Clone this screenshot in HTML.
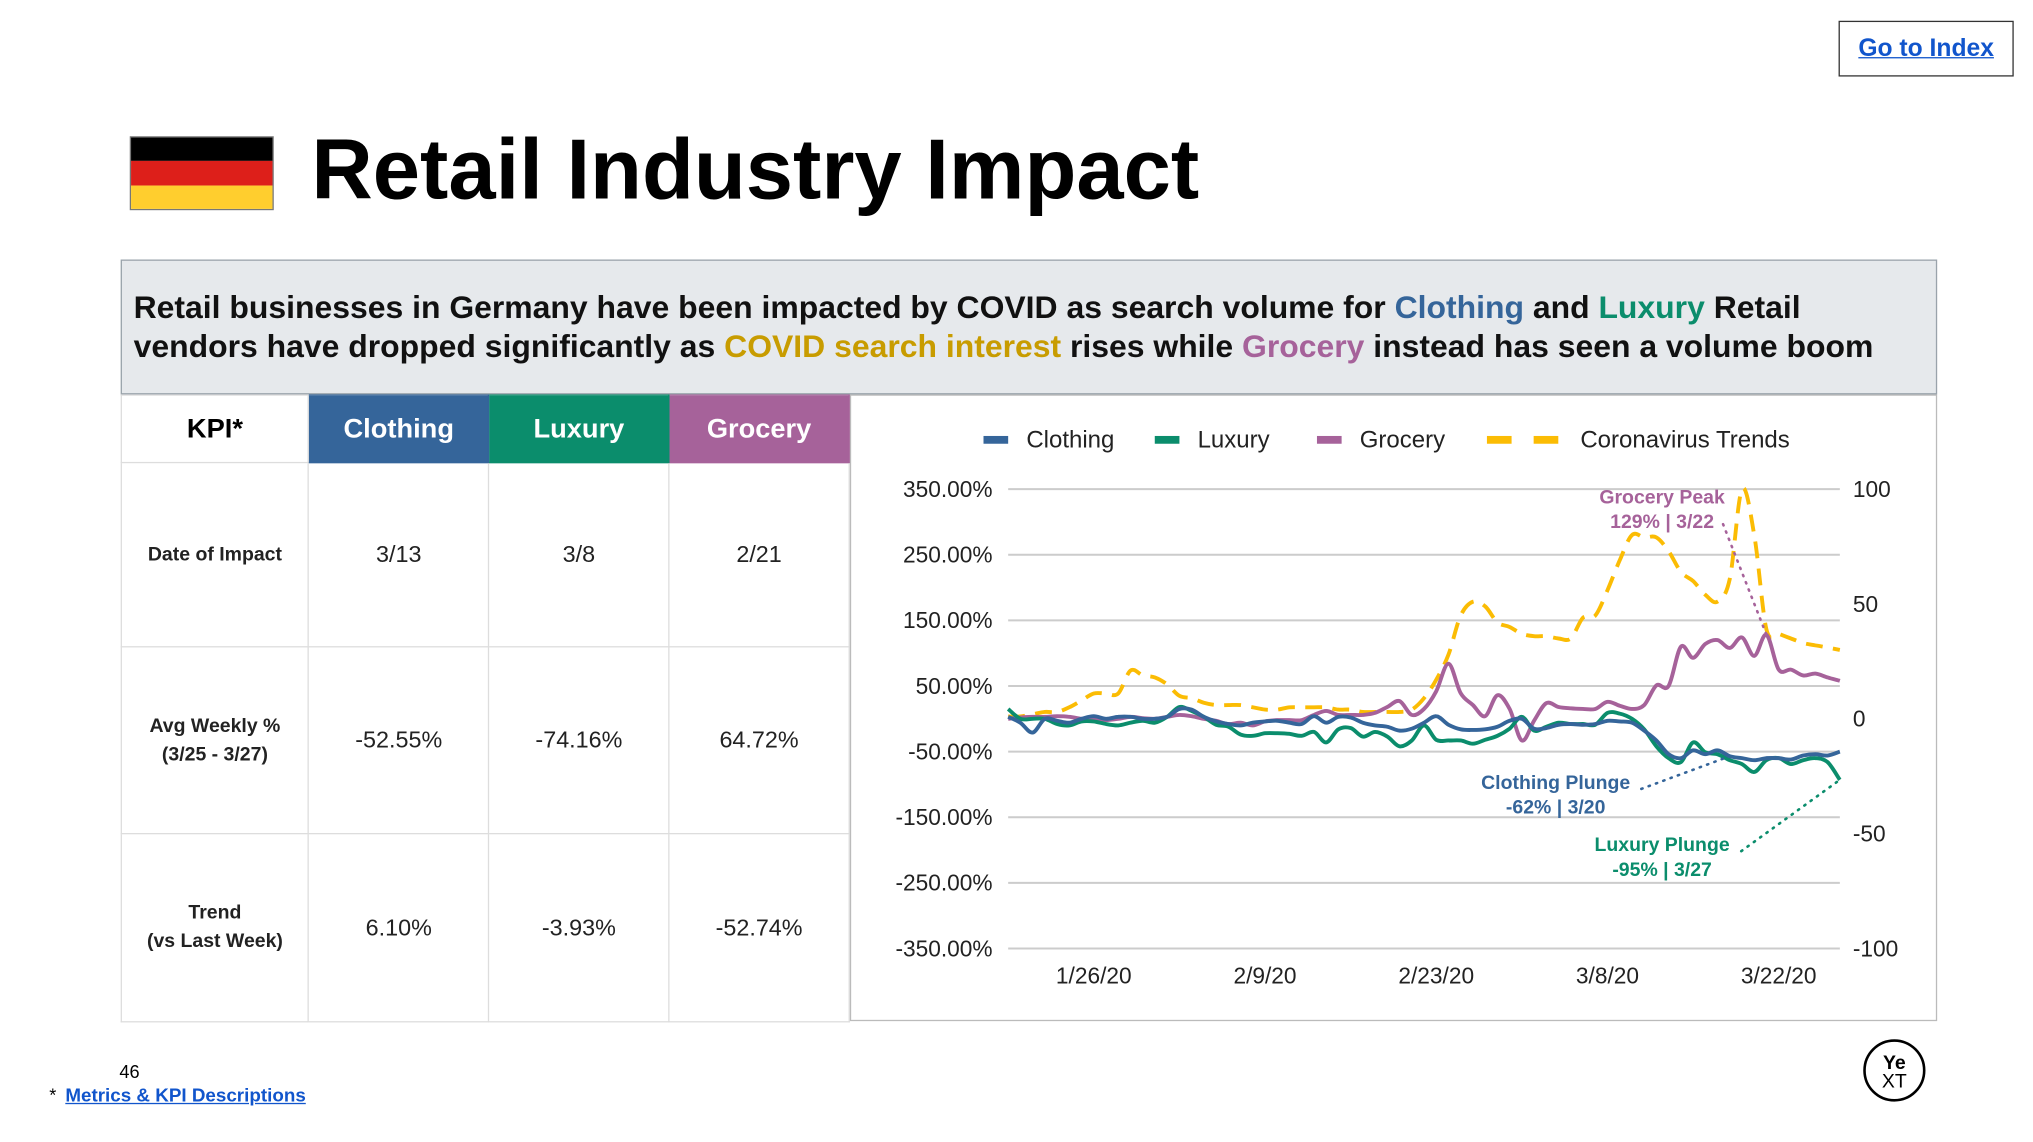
<!DOCTYPE html>
<html><head><meta charset="utf-8">
<style>
html,body{margin:0;padding:0;background:#fff;}
body{width:2033px;height:1137px;overflow:hidden;font-family:"Liberation Sans",Arial,sans-serif;}
#wrap{position:absolute;left:0;top:0;width:1570px;height:880px;transform:scale(1.2975);transform-origin:0 0;}
.abs{position:absolute;}
table{border-collapse:collapse;}
td{border:1px solid #ddd;text-align:center;font-size:18px;color:#222;padding:0;}
</style></head><body>
<div id="wrap">
  <a class="abs" style="left:1417px;top:16px;width:135px;height:43px;border:1px solid #333;box-sizing:border-box;color:#1155cc;font-weight:bold;font-size:19px;text-decoration:underline;display:flex;align-items:center;justify-content:center;">Go to Index</a>
  <div class="abs" style="left:100px;top:105px;width:111px;height:57px;border:1px solid #777;box-sizing:border-box;">
    <div style="height:33.3%;background:#000"></div><div style="height:33.3%;background:#dd1f1a"></div><div style="height:33.4%;background:#ffce2e"></div>
  </div>
  <div class="abs" style="left:240px;top:93px;font-size:65.5px;font-weight:bold;color:#000;white-space:nowrap;">Retail Industry Impact</div>
  <div class="abs" style="left:93px;top:200px;width:1400px;height:104px;background:#e6e9ec;border:1px solid #9aa3ab;box-sizing:border-box;padding:22px 0 0 9px;font-size:24.6px;font-weight:bold;line-height:30px;color:#111;white-space:nowrap;">
    Retail businesses in Germany have been impacted by COVID as search volume for <span style="color:#35659a">Clothing</span> and <span style="color:#0b8d6c">Luxury</span> Retail<br>vendors have dropped significantly as <span style="color:#c89c00">COVID search interest</span> rises while <span style="color:#a6629a">Grocery</span> instead has seen a volume boom
  </div>
  <table class="abs" style="left:93px;top:304px;width:562px;">
    <tr style="height:52px;">
      <td style="width:145px;font-weight:bold;font-size:21px;color:#000;">KPI*</td>
      <td style="width:139px;background:#35659a;color:#fff;font-weight:bold;font-size:21px;border-color:#35659a;">Clothing</td>
      <td style="width:139px;background:#0b8d6c;color:#fff;font-weight:bold;font-size:21px;border-color:#0b8d6c;">Luxury</td>
      <td style="width:139px;background:#a6629a;color:#fff;font-weight:bold;font-size:21px;border-color:#a6629a;">Grocery</td>
    </tr>
    <tr style="height:142px;"><td style="font-weight:bold;font-size:15px;">Date of Impact</td><td>3/13</td><td>3/8</td><td>2/21</td></tr>
    <tr style="height:144px;"><td style="font-weight:bold;font-size:15px;line-height:22px;">Avg Weekly %<br>(3/25 - 3/27)</td><td>-52.55%</td><td>-74.16%</td><td>64.72%</td></tr>
    <tr style="height:145px;"><td style="font-weight:bold;font-size:15px;line-height:22px;">Trend<br>(vs Last Week)</td><td>6.10%</td><td>-3.93%</td><td>-52.74%</td></tr>
  </table>
  <div class="abs" style="left:655px;top:304px;width:838px;height:483px;border:1px solid #bbb;box-sizing:border-box;"></div>
  <svg class="abs" id="chart" style="left:0;top:0;" width="1570" height="880"></svg>
  <div class="abs" style="left:92px;top:818px;font-size:14px;color:#000;">46</div>
  <div class="abs" style="left:38px;top:836px;font-size:14px;"><span>*</span> <a style="margin-left:3px;color:#1155cc;font-weight:bold;text-decoration:underline;font-size:14.5px;">Metrics &amp; KPI Descriptions</a></div>
  <svg class="abs" style="left:1434px;top:799px;" width="52" height="52">
    <circle cx="26" cy="26" r="23" fill="none" stroke="#000" stroke-width="2"/>
    <text x="26" y="25" text-anchor="middle" font-size="15" font-family="Liberation Sans" font-weight="bold">Ye</text>
    <text x="26" y="39" text-anchor="middle" font-size="15" font-family="Liberation Sans">XT</text>
  </svg>
</div>
<script>
const days = ["1/19","1/20","1/21","1/22","1/23","1/24","1/25","1/26","1/27","1/28","1/29","1/30","1/31","2/1","2/2","2/3","2/4","2/5","2/6","2/7","2/8","2/9","2/10","2/11","2/12","2/13","2/14","2/15","2/16","2/17","2/18","2/19","2/20","2/21","2/22","2/23","2/24","2/25","2/26","2/27","2/28","2/29","3/1","3/2","3/3","3/4","3/5","3/6","3/7","3/8","3/9","3/10","3/11","3/12","3/13","3/14","3/15","3/16","3/17","3/18","3/19","3/20","3/21","3/22","3/23","3/24","3/25","3/26","3/27"];
const clothing = [3,-6,-21,0,-3,-6,0,4,0,3,3,0,0,3,15,14,3,-4,-8,-10,-6,-4,-3,-6,-8,4,-6,3,2,-6,-10,-12,-18,-15,-6,4,-9,-16,-17,-16,-12,-3,0,-15,-14,-9,-8,-9,-8,-3,-4,-6,-18,-33,-54,-60,-48,-54,-48,-57,-60,-63,-60,-60,-62,-56,-54,-56,-50];
const luxury = [15,0,0,0,-8,-10,-4,-4,-8,-10,-6,-3,-6,3,18,12,3,-9,-12,-24,-26,-22,-22,-23,-26,-20,-36,-16,-14,-27,-20,-27,-42,-33,-10,-32,-33,-33,-38,-32,-26,-15,3,-18,-12,-6,-8,-8,-9,9,8,0,-16,-42,-60,-66,-36,-51,-54,-63,-69,-81,-63,-60,-69,-63,-60,-66,-93];
const grocery = [0,2,3,3,4,3,0,0,-2,0,3,1,0,3,6,4,0,-3,-8,-6,-10,-4,-2,-2,-2,6,12,6,6,6,9,18,27,6,15,42,84,39,21,4,36,15,-33,-3,24,18,16,15,15,26,20,15,21,51,50,110,93,114,120,108,124,96,128,75,75,66,69,63,58];
const covid = [1,1,2,3,3,5,8,11,11,11,21,19,18,15,10,9,7,6,6,6,5,4,4,5,5,5,5,4,4,3,3,3,3,4,9,17,28,45,51,49,42,40,37,36,36,35,35,44,45,56,69,80,79,79,73,64,60,54,51,61,100,80,39,37,35,33,32,31,30];
const leftTicks = [350,250,150,50,-50,-150,-250,-350];
const rightTicks = [100,50,0,-50,-100];
const xTickLabels = ["1/26/20","2/9/20","2/23/20","3/8/20","3/22/20"];
const xTickIdx = [7,21,35,49,63];

const NS="http://www.w3.org/2000/svg";
const svg=document.getElementById('chart');
const X0=777,X1=1418,YT=377,YB=731;
const xs=i=>X0+(X1-X0)*i/(days.length-1);
const yl=v=>YT+(350-v)/700*(YB-YT);
const yr=v=>YT+(100-v)/200*(YB-YT);
function mk(tag,attrs,text){const e=document.createElementNS(NS,tag);for(const k in attrs)e.setAttribute(k,attrs[k]);if(text!==undefined)e.textContent=text;svg.appendChild(e);return e;}
leftTicks.forEach(v=>{
  const g=mk('line',{x1:X0,x2:X1,y1:yl(v),y2:yl(v),stroke:'#ccc','stroke-width':1.5});
  
  
  const t=mk('text',{x:765,y:yl(v)+6,'text-anchor':'end','font-size':17.5,fill:'#222','font-family':'Liberation Sans'},v.toFixed(2)+'%');
  
  
});
rightTicks.forEach(v=>{
  const t=mk('text',{x:1428,y:yr(v)+6,'font-size':17.5,fill:'#222','font-family':'Liberation Sans'},String(v));
  
  
});
xTickLabels.forEach((l,k)=>{
  const t=mk('text',{x:xs(xTickIdx[k]),y:758,'text-anchor':'middle','font-size':17.5,fill:'#222','font-family':'Liberation Sans'},l);
  
  
});
function line(arr,yf,color,name,dash){
  const P=arr.map((v,i)=>[xs(i),yf(v)]);
  let d='M'+P[0][0].toFixed(1)+' '+P[0][1].toFixed(1);
  for(let i=0;i<P.length-1;i++){
    const p0=P[Math.max(0,i-1)],p1=P[i],p2=P[i+1],p3=P[Math.min(P.length-1,i+2)];
    const c1=[p1[0]+(p2[0]-p0[0])/6,p1[1]+(p2[1]-p0[1])/6];
    const c2=[p2[0]-(p3[0]-p1[0])/6,p2[1]-(p3[1]-p1[1])/6];
    d+=' C'+c1[0].toFixed(1)+' '+c1[1].toFixed(1)+' '+c2[0].toFixed(1)+' '+c2[1].toFixed(1)+' '+p2[0].toFixed(1)+' '+p2[1].toFixed(1);
  }
  const p=mk('path',{d:d,fill:'none',stroke:color,'stroke-width':3,'stroke-linejoin':'round'});
  if(dash)p.setAttribute('stroke-dasharray','13 8');
  
  
}
line(covid,yr,'#fbbc04','coronavirus-trends-line',true);
line(grocery,yl,'#a6629a','grocery-line');
line(luxury,yl,'#0b8d6c','luxury-line');
line(clothing,yl,'#35659a','clothing-line');
const leg=[["Clothing","#35659a",758,791],["Luxury","#0b8d6c",890,923],["Grocery","#a6629a",1015,1048],["Coronavirus Trends","#fbbc04",1146,1218]];
leg.forEach(([n,c,x,tx])=>{
  const r=mk('rect',{x:x,y:336,width:19,height:6,fill:c});
  
  
  if(n==="Coronavirus Trends"){const r2=mk('rect',{x:x+36,y:336,width:19,height:6,fill:c});}
  const t=mk('text',{x:tx,y:345,'font-size':18.5,fill:'#222','font-family':'Liberation Sans'},n);
  
  
});
function ann(lines,x,y,color,name){lines.forEach((s,k)=>{const t=mk('text',{x:x,y:y+k*19,'text-anchor':'middle','font-size':15,'font-weight':'bold',fill:color,'font-family':'Liberation Sans'},s);});}
ann(["Grocery Peak","129% | 3/22"],1281,388,'#a6629a','grocery-peak-annotation');
ann(["Clothing Plunge","-62% | 3/20"],1199,608,'#35659a','clothing-plunge-annotation');
ann(["Luxury Plunge","-95% | 3/27"],1281,656,'#0b8d6c','luxury-plunge-annotation');
function dots(x1,y1,x2,y2,c){const l=mk('line',{x1:x1,y1:y1,x2:x2,y2:y2,stroke:c,'stroke-width':2,'stroke-dasharray':'1 5','stroke-linecap':'round'});}
dots(1328,404,xs(62),yl(128),'#a6629a');
dots(1265,608,xs(59),yl(-57),'#35659a');
dots(1342,656,xs(68),yl(-93),'#0b8d6c');
</script>
</body></html>
